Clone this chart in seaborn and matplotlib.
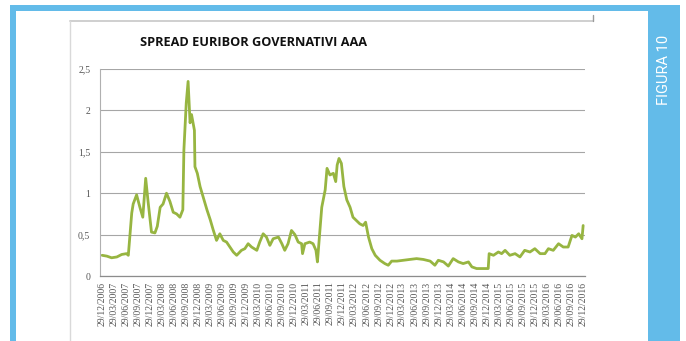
import matplotlib
matplotlib.use("Agg")
import matplotlib.pyplot as plt
from matplotlib.patches import Rectangle
from matplotlib.lines import Line2D
import pandas as pd
import seaborn as sns

# Spread Euribor vs AAA government yields (percentage points)
dates = [
    "2006-12-29", "2007-02-03", "2007-03-11", "2007-04-20", "2007-05-27", "2007-07-02",
    "2007-07-16", "2007-08-11", "2007-08-22", "2007-09-17", "2007-10-12", "2007-11-03",
    "2007-11-25", "2007-12-13", "2008-01-08", "2008-02-03", "2008-02-21", "2008-03-14",
    "2008-04-05", "2008-05-01", "2008-05-27", "2008-06-21", "2008-07-17", "2008-08-11",
    "2008-09-02", "2008-09-10", "2008-09-28", "2008-10-12", "2008-10-27", "2008-11-07",
    "2008-11-29", "2008-12-03", "2008-12-21", "2009-01-11", "2009-02-06", "2009-03-04",
    "2009-03-29", "2009-04-20", "2009-05-16", "2009-06-10", "2009-07-06", "2009-07-31",
    "2009-08-26", "2009-09-20", "2009-10-16", "2009-11-21", "2009-12-17", "2010-01-11",
    "2010-02-06", "2010-03-18", "2010-04-09", "2010-05-05", "2010-05-30", "2010-06-25",
    "2010-07-20", "2010-08-29", "2010-09-24", "2010-10-16", "2010-11-10", "2010-12-06",
    "2011-01-01", "2011-01-26", "2011-02-21", "2011-02-28", "2011-03-18", "2011-04-23",
    "2011-05-19", "2011-06-10", "2011-06-21", "2011-07-06", "2011-07-24", "2011-08-19",
    "2011-09-02", "2011-09-24", "2011-10-20", "2011-11-07", "2011-11-18", "2011-12-02",
    "2011-12-20", "2012-01-08", "2012-01-30", "2012-02-24", "2012-03-17", "2012-04-12",
    "2012-05-08", "2012-06-02", "2012-06-21", "2012-07-13", "2012-08-07", "2012-09-02",
    "2012-10-08", "2012-11-14", "2012-12-10", "2013-01-05", "2013-02-14", "2013-04-02",
    "2013-05-23", "2013-07-13", "2013-09-02", "2013-10-24", "2013-11-29", "2013-12-25",
    "2014-02-03", "2014-03-11", "2014-04-17", "2014-05-27", "2014-07-02", "2014-08-11",
    "2014-09-06", "2014-10-12", "2014-12-03", "2015-01-08", "2015-01-15", "2015-02-17",
    "2015-03-26", "2015-04-20", "2015-05-16", "2015-06-21", "2015-07-31", "2015-09-06",
    "2015-10-12", "2015-11-21", "2015-12-28", "2016-02-06", "2016-03-14", "2016-04-09",
    "2016-05-16", "2016-06-25", "2016-07-31", "2016-09-06", "2016-10-05", "2016-10-31",
    "2016-11-25", "2016-12-20", "2016-12-29",
]
spread = [
    0.25, 0.24, 0.22, 0.23, 0.26, 0.27,
    0.25, 0.76, 0.87, 0.98, 0.83, 0.71,
    1.18, 0.90, 0.53, 0.52, 0.60, 0.83,
    0.87, 1.00, 0.90, 0.77, 0.75, 0.71,
    0.80, 1.52, 2.09, 2.35, 1.85, 1.95,
    1.76, 1.32, 1.24, 1.08, 0.94, 0.80,
    0.68, 0.56, 0.43, 0.51, 0.43, 0.41,
    0.35, 0.29, 0.25, 0.31, 0.33, 0.39,
    0.35, 0.31, 0.41, 0.51, 0.47, 0.37,
    0.45, 0.47, 0.39, 0.31, 0.39, 0.55,
    0.50, 0.41, 0.39, 0.27, 0.39, 0.41,
    0.39, 0.31, 0.17, 0.47, 0.83, 1.04,
    1.30, 1.22, 1.24, 1.14, 1.34, 1.42,
    1.36, 1.08, 0.92, 0.83, 0.71, 0.67,
    0.63, 0.61, 0.65, 0.47, 0.33, 0.25,
    0.19, 0.15, 0.13, 0.18, 0.18, 0.19,
    0.20, 0.21, 0.20, 0.18, 0.13, 0.19,
    0.17, 0.12, 0.21, 0.17, 0.15, 0.17,
    0.11, 0.09, 0.09, 0.09, 0.27, 0.25,
    0.29, 0.27, 0.31, 0.25, 0.27, 0.23,
    0.31, 0.29, 0.33, 0.27, 0.27, 0.33,
    0.31, 0.39, 0.35, 0.35, 0.49, 0.47,
    0.51, 0.45, 0.61,
]

y_ticks = [0, 0.5, 1, 1.5, 2, 2.5]
y_tick_labels = ["0", "0,5", "1", "1,5", "2", "2,5"]
title = "SPREAD EURIBOR GOVERNATIVI AAA"
figure_tag = "FIGURA 10"

# quarterly labels 29/12/2006 ... 29/12/2016
x_tick_dates = [pd.Timestamp(2006, 12, 29)] + [
    pd.Timestamp(y, m, 29) for y in range(2007, 2017) for m in (3, 6, 9, 12)
]
x_tick_labels = [d.strftime("%d/%m/%Y") for d in x_tick_dates]

df = pd.DataFrame({"data": pd.to_datetime(dates), "spread": spread})

sns.set_style("white")
W, H = 686, 341
fig = plt.figure(figsize=(W / 100, H / 100), dpi=100)
fig.patch.set_facecolor("white")

blue = "#63BBE9"

def px_rect(x0, y0, x1, y1, **kw):
    fig.add_artist(Rectangle((x0 / W, 1 - y1 / H), (x1 - x0) / W, (y1 - y0) / H,
                             transform=fig.transFigure, linewidth=0, **kw))

# page frame
px_rect(10, 5, 680, 11, facecolor=blue)
px_rect(10, 5, 16, 341, facecolor=blue)
px_rect(648, 5, 680, 341, facecolor=blue)

# chart border
fig.add_artist(Line2D([70 / W, 593 / W], [1 - 21 / H, 1 - 21 / H], transform=fig.transFigure,
                      color="#cfcfcf", linewidth=1.4))
fig.add_artist(Line2D([70 / W, 70 / W], [0, 1 - 21 / H], transform=fig.transFigure,
                      color="#d9d9d9", linewidth=1.0))
fig.add_artist(Line2D([593 / W, 593 / W], [1 - 15 / H, 1 - 21 / H], transform=fig.transFigure,
                      color="#9a9a9a", linewidth=1.0))

ax = fig.add_axes([100 / W, 1 - 276 / H, (585 - 100) / W, (276 - 69) / H])
ax.set_facecolor("white")

sns.lineplot(data=df, x="data", y="spread", ax=ax, color="#97B541", linewidth=2.0)

ax.set_ylim(0, 2.5)
ax.set_xlim(pd.Timestamp("2006-12-13"), pd.Timestamp("2017-01-12"))
ax.set_yticks(y_ticks)
ax.set_yticklabels(y_tick_labels)
ax.set_xticks(x_tick_dates)
ax.set_xticklabels(x_tick_labels, rotation=90)
ax.set_xlabel("")
ax.set_ylabel("")

ax.yaxis.grid(True, color="#a6a6a6", linewidth=0.8)
ax.xaxis.grid(False)
ax.set_axisbelow(True)
for side in ("top", "right"):
    ax.spines[side].set_visible(False)
ax.spines["left"].set_color("#b0b0b0")
ax.spines["left"].set_linewidth(0.8)
ax.spines["bottom"].set_color("#8c8c8c")
ax.spines["bottom"].set_linewidth(0.9)

ax.tick_params(axis="y", length=0, pad=7, labelsize=7, labelcolor="#555555")
ax.tick_params(axis="x", length=2.5, width=0.6, color="#8c8c8c", pad=1.5,
               labelsize=7, labelcolor="#555555", direction="out")
for lbl in ax.get_yticklabels() + ax.get_xticklabels():
    lbl.set_family("Liberation Serif")

fig.text(253 / W, 1 - 43 / H, title, ha="center", va="center",
         fontsize=9.2, fontweight="bold", family="Open Sans", color="#111111")
fig.text(664 / W, 1 - 70 / H, figure_tag, ha="center", va="center", rotation=90,
         fontsize=10.5, family="Roboto", color="white")

fig.savefig("out.png", dpi=100, facecolor="white")
